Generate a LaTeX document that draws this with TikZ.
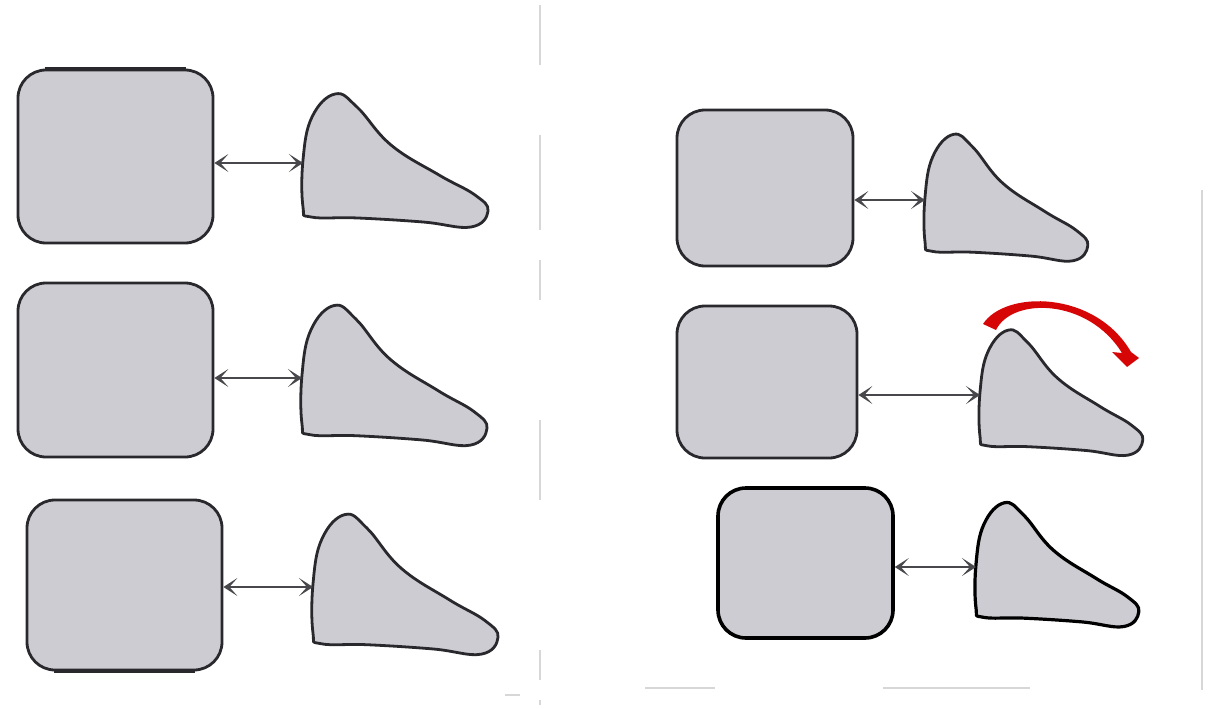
\documentclass[tikz,border=0pt]{standalone}
\usetikzlibrary{arrows.meta}
\definecolor{shade}{RGB}{204,204,210}
\definecolor{edge}{RGB}{40,40,45}
\definecolor{redarc}{RGB}{214,6,6}
\definecolor{scan}{RGB}{215,215,215}
\tikzset{
  boxshape/.style={draw=edge, line width=2.8pt, fill=shade, rounded corners=28pt, inner sep=0pt},
  blobstyle/.style={draw=edge, line width=2.8pt, fill=shade, line join=round},
  link/.style={draw=edge!85, line width=1.3pt, {Stealth[length=14pt,width=18pt,inset=8pt]}-{Stealth[length=14pt,width=18pt,inset=8pt]}},
  scanline/.style={draw=scan, line width=1.2pt}
}
\newcommand\blobpath{plot[smooth cycle, tension=0.7] coordinates {
  (0,44) (0,-3) (9,-46) (32,-69) (54,-56) (88,-18) (136,12) (172,32)
  (185,48) (168,64) (120,59) (55,55) (8,54)}}
\begin{document}
\begin{tikzpicture}[x=1pt,y=-1pt]
\useasboundingbox (0,0) rectangle (1212,709);
% faint scan lines
\draw[scanline, dash pattern=on 60pt off 70pt on 95pt off 30pt on 40pt off 120pt on 80pt off 150pt on 30pt off 20pt] (540,5) -- (540,705);
\draw[scanline] (1202,190) -- (1202,690);
\draw[scanline] (883,688) -- (1030,688);
\draw[scanline] (645,688) -- (715,688);
\draw[scanline] (505,695) -- (520,695);

% boxes
\node[boxshape, minimum width=195pt, minimum height=173pt] (box1) at (115.5,156.5) {};
\node[boxshape, minimum width=195pt, minimum height=174pt] (box2) at (115.5,370) {};
\node[boxshape, minimum width=195pt, minimum height=170pt] (box3) at (124.5,585) {};
\node[boxshape, minimum width=176pt, minimum height=156pt] (box4) at (765,188) {};
\node[boxshape, minimum width=180pt, minimum height=152pt] (box5) at (767,382) {};
\node[boxshape, draw=black, line width=3.6pt, minimum width=175pt, minimum height=150pt] (box6) at (805.5,563) {};
\draw[edge, line width=4pt] ([xshift=28]box1.north west) -- ([xshift=-28]box1.north east);
\draw[edge, line width=4pt] ([xshift=28]box3.south west) -- ([xshift=-28]box3.south east);

% blobs
\begin{scope}[shift={(303,163)}] \draw[blobstyle] \blobpath; \end{scope}
\begin{scope}[shift={(302,378)}, yscale=1.05] \draw[blobstyle] \blobpath; \end{scope}
\begin{scope}[shift={(313,587)}, yscale=1.05] \draw[blobstyle] \blobpath; \end{scope}
\begin{scope}[shift={(925,200)}, xscale=0.88, yscale=0.95] \draw[blobstyle] \blobpath; \end{scope}
\begin{scope}[shift={(980,395)}, xscale=0.88, yscale=0.94] \draw[blobstyle] \blobpath; \end{scope}
\begin{scope}[shift={(976,567)}, xscale=0.88, yscale=0.93] \draw[blobstyle, draw=black, line width=3.2pt] \blobpath; \end{scope}

\coordinate (b1) at (303,163);
\coordinate (b2) at (302,378);
\coordinate (b3) at (313,587);
\coordinate (b4) at (925,200);
\coordinate (b5) at (980,395);
\coordinate (b6) at (976,567);

% connectors
\draw[link] (box1.east |- b1) -- (b1);
\draw[link] (box2.east |- b2) -- (b2);
\draw[link] (box3.east |- b3) -- (b3);
\draw[link] (box4.east |- b4) -- (b4);
\draw[link] (box5.east |- b5) -- (b5);
\draw[link] (box6.east |- b6) -- (b6);

% red curved arrow
\fill[redarc] (983,324) .. controls (1005,290) and (1095,290) .. (1131,352)
  -- (1139,358) -- (1127,367) -- (1112,352) -- (1122,353)
  .. controls (1088,298) and (1012,297) .. (996,330) -- cycle;
\end{tikzpicture}
\end{document}
